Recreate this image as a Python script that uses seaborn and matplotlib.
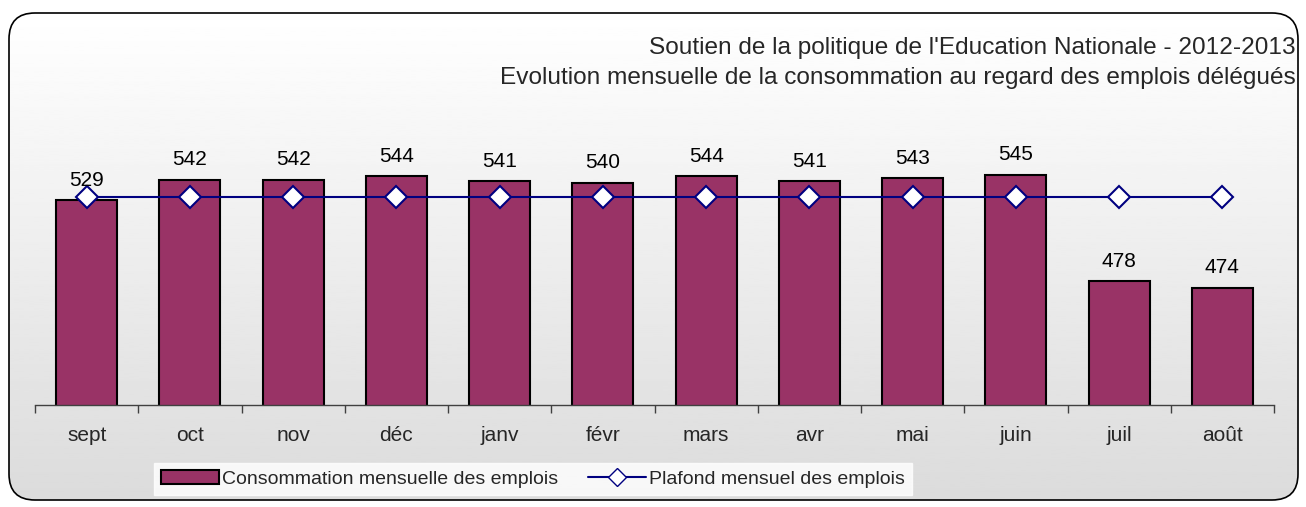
# -*- coding: utf-8 -*-

import numpy as np
import pandas as pd
import matplotlib
matplotlib.use('Agg')
import matplotlib.pyplot as plt
from matplotlib.patches import FancyBboxPatch, Patch
from matplotlib.lines import Line2D
import seaborn as sns

months = ['sept', 'oct', 'nov', 'déc', 'janv', 'févr', 'mars', 'avr', 'mai', 'juin', 'juil', 'août']
consommation = [529, 542, 542, 544, 541, 540, 544, 541, 543, 545, 478, 474]
plafond = [531] * 12

title_lines = ["Soutien de la politique de l'Education Nationale - 2012-2013",
               "Evolution mensuelle de la consommation au regard des emplois délégués"]
label_bar = 'Consommation mensuelle des emplois'
label_line = 'Plafond mensuel des emplois'

BAR_COLOR = '#993366'
LINE_COLOR = '#000080'


def make_plot():
    sns.set_style('white')
    plt.rcParams['font.family'] = ['Liberation Sans', 'DejaVu Sans']

    W, H = 1306, 507
    fig = plt.figure(figsize=(W / 100, H / 100), dpi=100)

    # background with gradient inside a rounded frame
    bg = fig.add_axes([0, 0, 1, 1])
    bg.set_xlim(0, W)
    bg.set_ylim(H, 0)
    bg.axis('off')
    grad = np.linspace(1.0, 0.86, 256).reshape(-1, 1)
    frame = FancyBboxPatch((9, 13), W - 17, H - 20, boxstyle='round,pad=0,rounding_size=26',
                           facecolor='none', edgecolor='black', linewidth=1.2, zorder=3)
    bg.add_patch(frame)
    img = bg.imshow(grad, cmap='gray', vmin=0, vmax=1, extent=[9, W - 8, H - 7, 13],
                    aspect='auto', zorder=1)
    img.set_clip_path(frame)

    # plot area
    left, right = 35, 1274
    base, top = 405, 151
    ax = fig.add_axes([left / W, (H - base) / H, (right - left) / W, (base - top) / H])
    ax.patch.set_alpha(0)

    df = pd.DataFrame({'mois': months, 'conso': consommation, 'plafond': plafond})
    sns.barplot(data=df, x='mois', y='conso', color=BAR_COLOR, width=0.59, saturation=1,
                edgecolor='black', linewidth=1.5, ax=ax, zorder=2)
    sns.lineplot(data=df, x='mois', y='plafond', color=LINE_COLOR, linewidth=1.5, marker='D',
                 markersize=11, markerfacecolor='white', markeredgecolor=LINE_COLOR,
                 markeredgewidth=1.5, ax=ax, zorder=4)

    for i, v in enumerate(consommation):
        ax.text(i, v + 6.5, str(v), ha='center', va='bottom', fontsize=15, color='black', zorder=5)

    ax.set_ylim(400, 560)
    ax.set_xlim(-0.5, len(months) - 0.5)
    ax.set_yticks([])
    ax.set_xlabel('')
    ax.set_ylabel('')
    for s in ['left', 'top', 'right']:
        ax.spines[s].set_visible(False)
    ax.spines['bottom'].set_color('#404040')
    ax.spines['bottom'].set_linewidth(1)
    ax.set_xticks(range(len(months)))
    ax.set_xticklabels(months, fontsize=15)
    ax.set_xticks(np.arange(-0.5, len(months), 1), minor=True)
    ax.tick_params(axis='x', which='major', length=0, pad=15)
    ax.tick_params(axis='x', which='minor', bottom=True, length=6, color='#404040',
                   width=1, direction='out')

    fig.text(1296 / W, 1 - 48 / H, title_lines[0], ha='right', va='center', fontsize=17.6)
    fig.text(1296 / W, 1 - 78 / H, title_lines[1], ha='right', va='center', fontsize=17.6)

    handles = [Patch(facecolor=BAR_COLOR, edgecolor='black', linewidth=1.5, label=label_bar),
               Line2D([0], [0], color=LINE_COLOR, linewidth=1.5, marker='D', markersize=9,
                      markerfacecolor='white', markeredgecolor=LINE_COLOR, label=label_line)]
    leg = fig.legend(handles=handles, loc='center', bbox_to_anchor=(533 / W, 1 - 479 / H),
                     ncol=2, frameon=True, fontsize=14, handlelength=3.0, handletextpad=0.15,
                     columnspacing=1.5, borderpad=0.35, fancybox=False)
    leg.get_frame().set_facecolor('white')
    leg.get_frame().set_edgecolor('white')

    fig.savefig('out.png', dpi=100)
    plt.close(fig)


if __name__ == '__main__':
    make_plot()
